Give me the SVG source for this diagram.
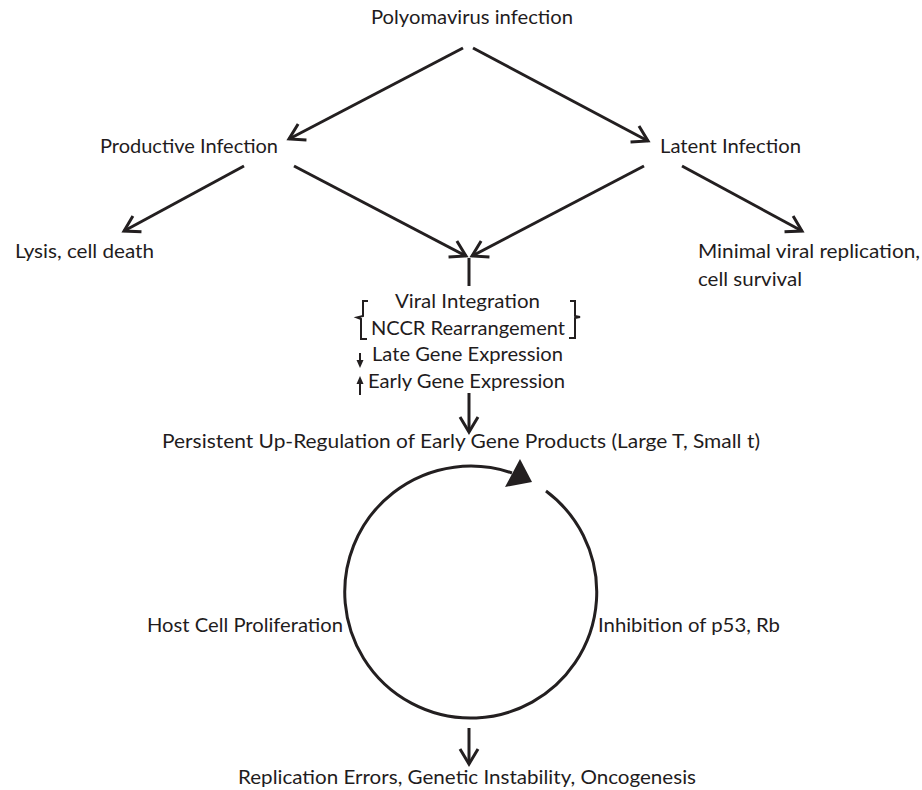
<svg xmlns="http://www.w3.org/2000/svg" width="922" height="790" viewBox="0 0 922 790">
<style>
text{font-family:"Lato","Open Sans","Liberation Sans",sans-serif;font-size:20px;fill:#1f1c1d}
.ln{stroke:#231f20;stroke-width:3;fill:none}
.br{stroke:#231f20;stroke-width:2;fill:none}
.hd{fill:#231f20}
</style>
<defs>
<marker id="v" markerUnits="userSpaceOnUse" markerWidth="30" markerHeight="30" viewBox="-20 -15 30 30" refX="0" refY="0" orient="auto">
<path d="M-15,-9 L0,0 L-15,9" fill="none" stroke="#231f20" stroke-width="3"/>
</marker>
</defs>
<rect width="922" height="790" fill="#fff"/>
<g id="connectors">
<line class="ln" x1="463" y1="48" x2="289" y2="139" marker-end="url(#v)"/>
<line class="ln" x1="473" y1="48" x2="648" y2="141" marker-end="url(#v)"/>
<line class="ln" x1="244" y1="166" x2="124" y2="231" marker-end="url(#v)"/>
<line class="ln" x1="294" y1="166" x2="466" y2="256" marker-end="url(#v)"/>
<line class="ln" x1="644" y1="166" x2="472" y2="256" marker-end="url(#v)"/>
<line class="ln" x1="682" y1="166" x2="802" y2="231" marker-end="url(#v)"/>
<line class="ln" x1="469" y1="258" x2="469" y2="286"/>
<line class="ln" x1="469" y1="393" x2="469" y2="432" marker-end="url(#v)"/>
<line class="ln" x1="469" y1="728" x2="469" y2="764" marker-end="url(#v)"/>
<path class="ln" d="M546,491 A126,126 0 1 1 512,473"/>
<polygon class="hd" points="532,482 520,459 505,487"/>
<line x1="360" y1="353" x2="360" y2="362" stroke="#231f20" stroke-width="2"/>
<polygon class="hd" points="356.5,360 363.5,360 360,368"/>
<line x1="360" y1="383" x2="360" y2="395" stroke="#231f20" stroke-width="2"/>
<polygon class="hd" points="356.5,384 363.5,384 360,376"/>
<path class="br" d="M368,301 L363,301 L363,316 L357,317.5 L361,319 L361,339 L367,339"/>
<path class="br" d="M570,301 L575,301 L575,316 L580,317 L575,318 L575,338 L569,338"/>
</g>
<g id="n-polyoma"><text x="371" y="24" textLength="202" lengthAdjust="spacingAndGlyphs">Polyomavirus infection</text></g>
<g id="n-productive"><text x="100" y="153" textLength="178" lengthAdjust="spacingAndGlyphs">Productive Infection</text></g>
<g id="n-latent"><text x="660" y="153" textLength="141" lengthAdjust="spacingAndGlyphs">Latent Infection</text></g>
<g id="n-lysis"><text x="15" y="258" textLength="139" lengthAdjust="spacingAndGlyphs">Lysis, cell death</text></g>
<g id="n-minimal"><text x="698" y="258" textLength="222" lengthAdjust="spacingAndGlyphs">Minimal viral replication,</text><text x="698" y="286" textLength="104" lengthAdjust="spacingAndGlyphs">cell survival</text></g>
<g id="n-integration">
<text x="395" y="308" textLength="145" lengthAdjust="spacingAndGlyphs">Viral Integration</text>
<text x="371" y="335" textLength="194" lengthAdjust="spacingAndGlyphs">NCCR Rearrangement</text>
<text x="372" y="361" textLength="191" lengthAdjust="spacingAndGlyphs">Late Gene Expression</text>
<text x="368" y="388" textLength="197" lengthAdjust="spacingAndGlyphs">Early Gene Expression</text>
</g>
<g id="n-persistent"><text x="162" y="448" textLength="598" lengthAdjust="spacingAndGlyphs">Persistent Up-Regulation of Early Gene Products (Large T, Small t)</text></g>
<g id="n-host"><text x="147" y="632" textLength="196" lengthAdjust="spacingAndGlyphs">Host Cell Proliferation</text></g>
<g id="n-inhibition"><text x="598" y="632" textLength="182" lengthAdjust="spacingAndGlyphs">Inhibition of p53, Rb</text></g>
<g id="n-replication"><text x="238" y="784" textLength="458" lengthAdjust="spacingAndGlyphs">Replication Errors, Genetic Instability, Oncogenesis</text></g>
</svg>
